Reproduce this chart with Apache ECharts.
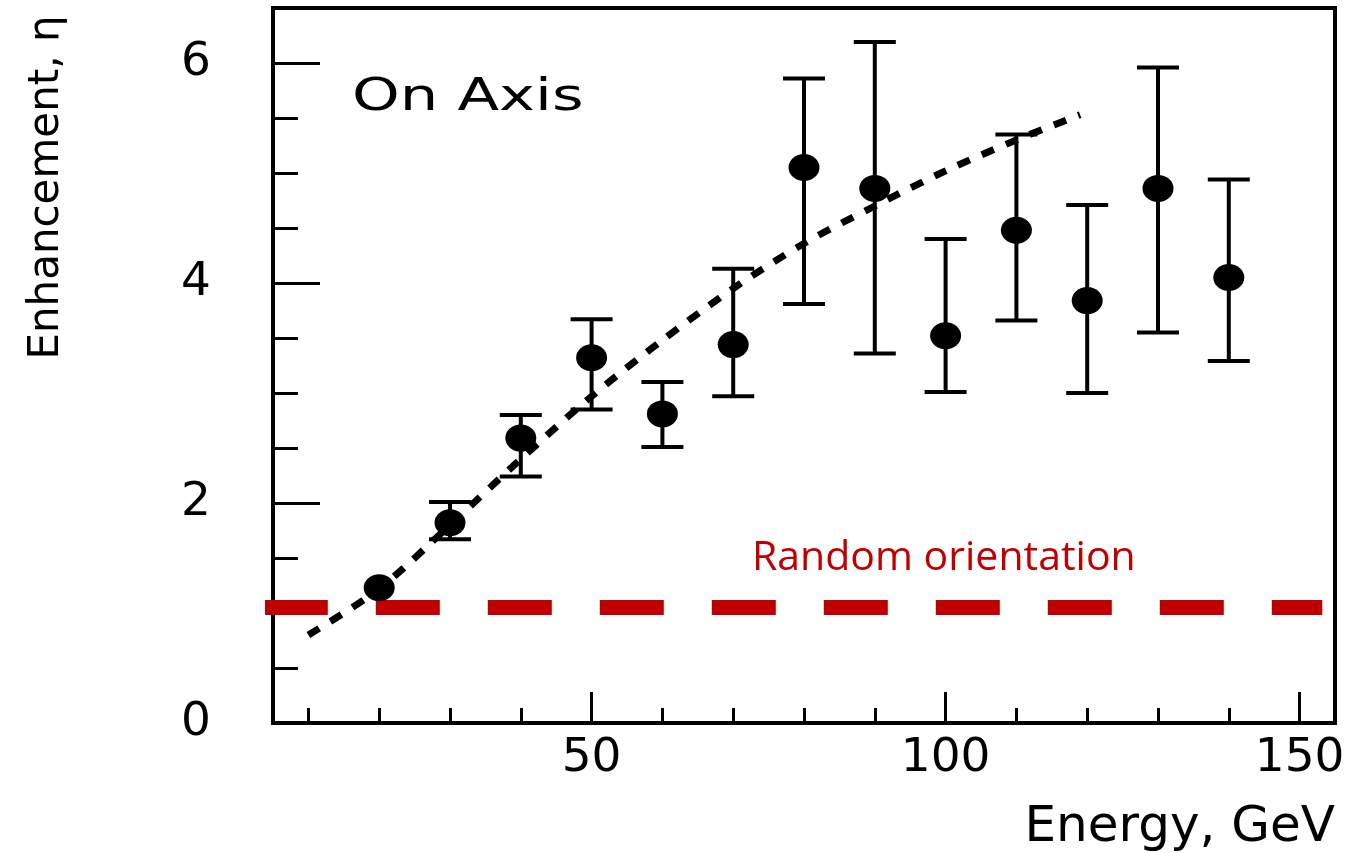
<!DOCTYPE html>
<html>
<head>
<meta charset="utf-8">
<script src="https://cdn.jsdelivr.net/npm/echarts@6/dist/echarts.min.js"></script>
<style>
html,body{margin:0;padding:0;background:#fff;}
#chart{width:1358px;height:853px;}
</style>
</head>
<body>
<div id="chart"></div>
<script>
// Measured data (Energy in GeV, enhancement eta)
const energies    = [20, 30, 40, 50, 60, 70, 80, 90, 100, 110, 120, 130, 140];
const enhancement = [1.23, 1.82, 2.59, 3.32, 2.81, 3.44, 5.05, 4.86, 3.52, 4.48, 3.84, 4.86, 4.05];
const errHigh     = [null, 2.01, 2.80, 3.67, 3.10, 4.13, 5.86, 6.19, 4.40, 5.35, 4.71, 5.96, 4.94];
const errLow      = [null, 1.67, 2.24, 2.85, 2.51, 2.97, 3.81, 3.36, 3.01, 3.66, 3.00, 3.55, 3.29];

// Dotted trend curve
const fitEnergy = [10, 20, 30, 40, 50, 60, 70, 80, 90, 100, 110, 119];
const fitValue  = [0.80, 1.22, 1.80, 2.40, 2.97, 3.48, 3.95, 4.36, 4.70, 5.02, 5.30, 5.53];

// Random orientation reference level
const randomLevel = 1.05;
const randomSpan  = [3.7, 153.2];

// Axis ticks
const xLabelTicks = [50, 100, 150];
const xMinorTicks = [10, 20, 30, 40, 50, 60, 70, 80, 90, 100, 110, 120, 130, 140, 150];
const yLabelTicks = [0, 2, 4, 6];
const yMinorTicks = [0.5, 1, 1.5, 2.5, 3, 3.5, 4.5, 5, 5.5];

const chart = echarts.init(document.getElementById('chart'));
const black = '#000';
const font = 'DejaVu Sans';

const pts = energies.map((e, i) => [e, enhancement[i]]);
const errs = energies.map((e, i) => [e, errLow[i], errHigh[i]]).filter(d => d[1] != null);
const fit = fitEnergy.map((e, i) => [e, fitValue[i]]);
const rnd = randomSpan.map(e => [e, randomLevel]);

const option = {
  animation: false,
  backgroundColor: '#fff',
  grid: {left: 273, right: 23, top: 8, bottom: 129, show: true, borderColor: black, borderWidth: 4, backgroundColor: 'transparent'},
  xAxis: [{
    type: 'value', min: 5, max: 155, position: 'bottom',
    name: 'Energy, GeV', nameLocation: 'end', nameGap: 0,
    nameTextStyle: {fontFamily: font, fontSize: 50, color: black, align: 'right', verticalAlign: 'top', padding: [80, 0, 0, 0]},
    axisLine: {show: true, onZero: false, lineStyle: {color: black, width: 4}},
    axisTick: {show: true, inside: true, length: 15, lineStyle: {color: black, width: 3}, customValues: xMinorTicks},
    axisLabel: {show: true, fontFamily: font, fontSize: 47, color: black, margin: 12, customValues: xLabelTicks},
    splitLine: {show: false}
  }, {
    type: 'value', min: 5, max: 155, position: 'bottom',
    axisLine: {show: false},
    axisTick: {show: true, inside: true, length: 31, lineStyle: {color: black, width: 3}, customValues: xLabelTicks},
    axisLabel: {show: false},
    splitLine: {show: false}
  }],
  yAxis: [{
    type: 'value', min: 0, max: 6.5, position: 'left',
    name: 'Enhancement, η', nameLocation: 'middle', nameRotate: 90, nameGap: 205,
    nameTextStyle: {fontFamily: font, fontSize: 42, color: black, padding: [0, 0, 0, 356]},
    axisLine: {show: true, onZero: false, lineStyle: {color: black, width: 4}},
    axisTick: {show: true, inside: true, length: 47, lineStyle: {color: black, width: 3}, customValues: yLabelTicks},
    axisLabel: {show: true, fontFamily: font, fontSize: 47, color: black, margin: 62, customValues: yLabelTicks},
    splitLine: {show: false}
  }, {
    type: 'value', min: 0, max: 6.5, position: 'left',
    axisLine: {show: false},
    axisTick: {show: true, inside: true, length: 25, lineStyle: {color: black, width: 3}, customValues: yMinorTicks},
    axisLabel: {show: false},
    splitLine: {show: false}
  }],
  graphic: [{
    type: 'text', x: 352, y: 99, scaleX: 1.38, scaleY: 1,
    style: {text: 'On Axis', font: '44px "DejaVu Sans"', fill: black, verticalAlign: 'middle', align: 'left'}
  }, {
    type: 'text', x: 752, y: 558,
    style: {text: 'Random orientation', font: '41px "Open Sans"', fill: '#C00000', verticalAlign: 'middle', align: 'left'}
  }],
  series: [{
    name: 'Random orientation', type: 'line', data: rnd, clip: false, symbol: 'none',
    lineStyle: {color: '#C00000', width: 15, type: [64, 48], cap: 'butt'}, z: 2
  }, {
    name: 'Fit', type: 'line', data: fit, smooth: 0.3, symbol: 'none',
    lineStyle: {color: black, width: 7, type: [13, 13], cap: 'butt'}, z: 3
  }, {
    name: 'Error', type: 'custom', data: errs, z: 4,
    renderItem: function (params, api) {
      const x = api.value(0);
      const lo = api.coord([x, api.value(1)]);
      const hi = api.coord([x, api.value(2)]);
      const hw = 21;
      const st = {stroke: black, lineWidth: 4};
      return {type: 'group', children: [
        {type: 'line', shape: {x1: lo[0], y1: lo[1], x2: hi[0], y2: hi[1]}, style: st},
        {type: 'line', shape: {x1: lo[0] - hw, y1: lo[1], x2: lo[0] + hw, y2: lo[1]}, style: st},
        {type: 'line', shape: {x1: hi[0] - hw, y1: hi[1], x2: hi[0] + hw, y2: hi[1]}, style: st}
      ]};
    }
  }, {
    name: 'On Axis', type: 'scatter', data: pts, symbol: 'circle', symbolSize: [31, 27],
    itemStyle: {color: black, opacity: 1}, z: 5
  }]
};
chart.setOption(option);
</script>
</body>
</html>
